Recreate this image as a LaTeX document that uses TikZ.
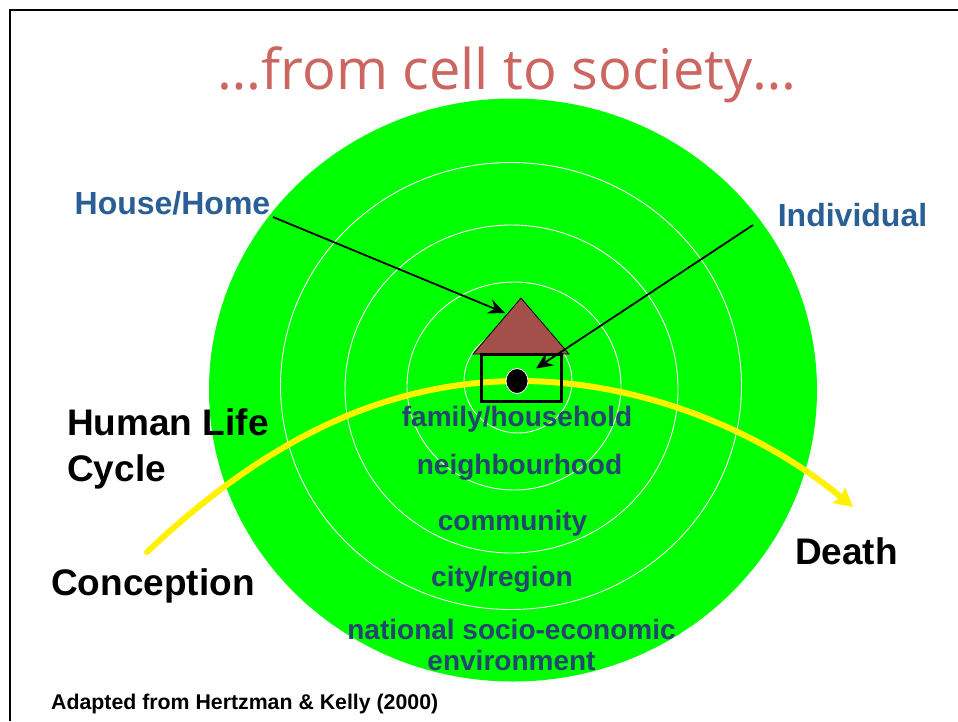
\documentclass[tikz,border=0pt]{standalone}
\usepackage{fontspec}
\setmainfont{Liberation Sans}
\newfontfamily\headfont{Open Sans}
\usetikzlibrary{arrows.meta,shapes.geometric}
\definecolor{titlered}{HTML}{CC6660}
\definecolor{labelblue}{HTML}{2A5F95}
\definecolor{ringblue}{HTML}{25476F}
\definecolor{roofbrown}{HTML}{A54F4A}
\begin{document}
\begin{tikzpicture}[
    x=1pt, y=-1pt,
    disc/.style={ellipse, fill=green, draw=none, inner sep=0pt},
    ring/.style={ellipse, draw=white, line width=0.9pt, inner sep=0pt},
    ringtext/.style={font=\bfseries\fontsize{28}{30.5}\selectfont, text=ringblue, align=center, inner sep=0pt},
    sidetext/.style={font=\bfseries\fontsize{32}{36}\selectfont, text=labelblue, inner sep=0pt},
    lifetext/.style={font=\bfseries\fontsize{37}{46}\selectfont, text=black, align=left, inner sep=0pt},
    pointer/.style={draw=black, line width=1.8pt, -{Stealth[length=17pt, width=15pt, inset=6pt]}},
    lifeline/.style={draw=yellow, line width=6pt, line cap=round, -{Stealth[length=18pt, width=19pt, inset=2pt]}},
    roofshape/.style={isosceles triangle, isosceles triangle stretches, shape border rotate=90, draw=black, fill=roofbrown, line width=0.8pt, minimum width=96pt, minimum height=56pt, inner sep=0pt},
    ]
    \useasboundingbox (0,0) rectangle (958,721);
    \fill[white] (0,0) rectangle (958,721);
    \draw[black, line width=2pt] (10,721) -- (10,10) -- (958,10); % moldura

    \node[disc, minimum width=608pt, minimum height=583pt] (world) at (513,390) {};
    \node[ring, minimum width=461pt, minimum height=447pt] (nation) at (511,386) {};
    \node[ring, minimum width=333pt, minimum height=328pt] (city) at (511.5,389) {};
    \node[ring, minimum width=214pt, minimum height=208pt] (hood) at (514,386) {};
    \node[ring, minimum width=108pt, minimum height=104pt] (family) at (518,381) {};

    \coordinate (conception) at (147,552);
    \coordinate (midlife) at (520,381);
    \coordinate (death) at (853,507);
    \draw[lifeline] (conception) .. controls (260,445) and (380,381) .. (midlife)
        .. controls (640,381) and (760,430) .. (death);

    \node[roofshape, anchor=apex] (roof) at (521,297) {};
    \node[draw=black, line width=3pt, minimum width=80pt, minimum height=47pt, inner sep=0pt] (house) at (521,378) {};
    \node[ellipse, fill=black, draw=white, line width=0.8pt, minimum width=22pt, minimum height=25pt, inner sep=0pt] (person) at (517,381) {};

    \node[font=\headfont\fontsize{56}{60}\selectfont, text=titlered, inner sep=0pt] (title) at (507,75) {…from cell to society…};
    \node[sidetext] (homelabel) at (172.5,203) {House/Home};
    \node[sidetext] (individual) at (852.5,215) {Individual};
    \coordinate (homestart) at (273,217);
    \coordinate (rooftip) at (505,313);
    \coordinate (individualstart) at (753,225);
    \draw[pointer] (homestart) -- (rooftip);
    \draw[pointer, shorten >=11pt] (individualstart) -- (person);

    \node[ringtext] (familytext) at (517,419) {family/household};
    \node[ringtext] (hoodtext) at (519.5,467) {neighbourhood};
    \node[ringtext] (communitytext) at (512.5,523) {community};
    \node[ringtext] (citytext) at (502,579) {city/region};
    \node[ringtext] (nationtext) at (511.5,645) {national socio-economic\\environment};

    \node[lifetext, anchor=west] (cycle) at (67,449) {Human Life\\Cycle};
    \node[lifetext] (conceptiontext) at (153,586) {Conception};
    \node[lifetext] (deathtext) at (846.5,551) {Death};
    \node[font=\bfseries\fontsize{21.3}{24}\selectfont, anchor=west, inner sep=0pt] (source) at (51,704) {Adapted from Hertzman \& Kelly (2000)};
\end{tikzpicture}
\end{document}
